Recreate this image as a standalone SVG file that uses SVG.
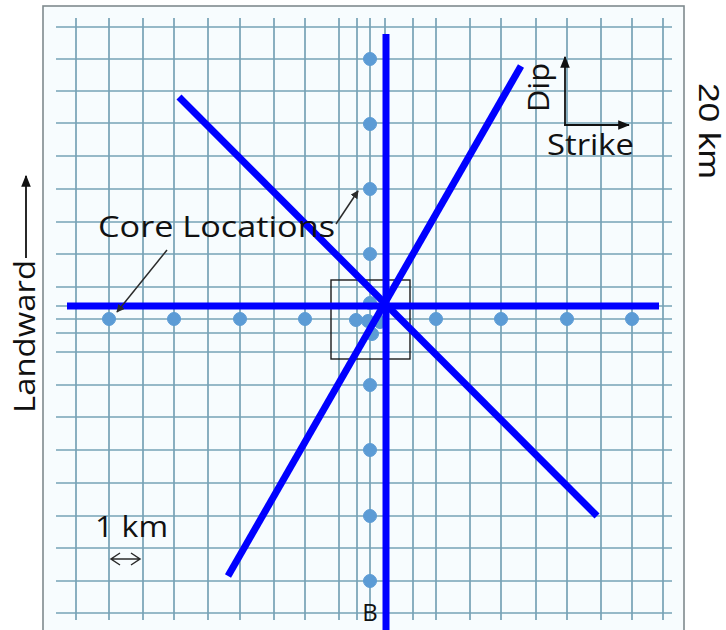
<svg xmlns="http://www.w3.org/2000/svg" width="726" height="630" viewBox="0 0 726 630">
<defs>
<style>
.grid{stroke:#77a2b6;stroke-width:1.7;fill:none}
.cut{stroke:#0000ff;stroke-width:7;stroke-linecap:butt}
.dot{fill:#5b9bd5;stroke:#5b9bd5;stroke-width:1}
.lbl{font-family:"Open Sans","Liberation Sans",sans-serif;font-size:30px;fill:#111111}
.ink{stroke:#111111;stroke-width:1.8;fill:none}
.lead{stroke:#2b2b2b;stroke-width:1.5;fill:none}
</style>
<marker id="ah" viewBox="0 0 10 10" refX="9" refY="5" markerWidth="8" markerHeight="8" markerUnits="userSpaceOnUse" orient="auto">
<path d="M0,0 L10,5 L0,10 Z" fill="#2b2b2b"/>
</marker>
<marker id="ahBig" viewBox="0 0 10 10" refX="9" refY="5" markerWidth="12" markerHeight="12" markerUnits="userSpaceOnUse" orient="auto">
<path d="M0,1 L10,5 L0,9 Z" fill="#111111"/>
</marker>
</defs>
<rect width="726" height="630" fill="#ffffff"/>
<g id="frame">
<rect x="43" y="6" width="641" height="640" fill="#f7fcfe" stroke="#7f8a8e" stroke-width="1.6"/>
</g>
<g id="grid">
<path class="grid" d="M56,27H672M56,59H672M56,91H672M56,123H672M56,156H672M56,189H672M56,222H672M56,254H672M56,287H672M56,306H672M56,319H672M56,333H672M56,352H672M56,385H672M56,417H672M56,450H672M56,483H672M56,516H672M56,548H672M56,581H672M56,613H672"/>
<path class="grid" d="M76,18V620M109,18V620M143,18V620M174,18V620M208,18V620M240,18V620M274,18V620M305,18V620M339,18V620M357,18V620M370,18V620M385,18V620M413,18V620M436,18V620M470,18V620M501,18V620M536,18V620M567,18V620M601,18V620M632,18V620M663,18V620"/>
</g>
<g id="core-locations">
<circle class="dot" cx="370" cy="59" r="6.5"/>
<circle class="dot" cx="370" cy="124" r="6.5"/>
<circle class="dot" cx="370" cy="189" r="6.5"/>
<circle class="dot" cx="370" cy="254" r="6.5"/>
<circle class="dot" cx="370" cy="385" r="6.5"/>
<circle class="dot" cx="370" cy="450" r="6.5"/>
<circle class="dot" cx="370" cy="516" r="6.5"/>
<circle class="dot" cx="370" cy="581" r="6.5"/>
<circle class="dot" cx="109" cy="319" r="6.5"/>
<circle class="dot" cx="174" cy="319" r="6.5"/>
<circle class="dot" cx="240" cy="319" r="6.5"/>
<circle class="dot" cx="305" cy="319" r="6.5"/>
<circle class="dot" cx="356" cy="320" r="6.5"/>
<circle class="dot" cx="436" cy="319" r="6.5"/>
<circle class="dot" cx="501" cy="319" r="6.5"/>
<circle class="dot" cx="567" cy="319" r="6.5"/>
<circle class="dot" cx="632" cy="319" r="6.5"/>
<circle class="dot" cx="370" cy="303" r="6.5"/>
<circle class="dot" cx="368" cy="321" r="6.5"/>
<circle class="dot" cx="380" cy="322" r="6.5"/>
<circle class="dot" cx="372" cy="334" r="6.5"/>
</g>
<g id="center-box">
<rect x="331" y="280" width="79" height="79" fill="none" stroke="#1a1a1a" stroke-width="1.4"/>
</g>
<g id="connectors">
<line class="cut" x1="386" y1="34" x2="386" y2="630"/>
<line class="cut" x1="67" y1="306" x2="659" y2="306"/>
<line class="cut" x1="179" y1="97" x2="597" y2="516"/>
<line class="cut" x1="228" y1="576" x2="521" y2="66"/>
<line class="lead" x1="167" y1="250" x2="117" y2="312" marker-end="url(#ah)"/>
<line class="lead" x1="336" y1="224" x2="358" y2="191" marker-end="url(#ah)"/>
<line class="ink" x1="26" y1="258" x2="26" y2="176" marker-end="url(#ahBig)"/>
<line class="ink" x1="565" y1="126" x2="565" y2="57" marker-end="url(#ahBig)"/>
<line class="ink" x1="564" y1="125" x2="629" y2="125" marker-end="url(#ahBig)"/>
<path class="lead" d="M111,559H140M120,553L111,559L120,565M131,553L140,559L131,565"/>
</g>
<g id="labels">
<text class="lbl" x="98" y="237" textLength="237" lengthAdjust="spacingAndGlyphs">Core Locations</text>
<text class="lbl" transform="translate(35,413) rotate(-90)" textLength="153" lengthAdjust="spacingAndGlyphs">Landward</text>
<text class="lbl" transform="translate(549,112) rotate(-90)" textLength="49" lengthAdjust="spacingAndGlyphs">Dip</text>
<text class="lbl" x="547" y="155" textLength="87" lengthAdjust="spacingAndGlyphs">Strike</text>
<text class="lbl" transform="translate(699,83) rotate(90)" textLength="96" lengthAdjust="spacingAndGlyphs" style="font-family:'Liberation Sans',sans-serif;font-size:29px">20 km</text>
<text class="lbl" x="95" y="537" textLength="73" lengthAdjust="spacingAndGlyphs">1 km</text>
<text class="lbl" x="370" y="621" text-anchor="middle" style="font-size:24px">B</text>
</g>
</svg>
